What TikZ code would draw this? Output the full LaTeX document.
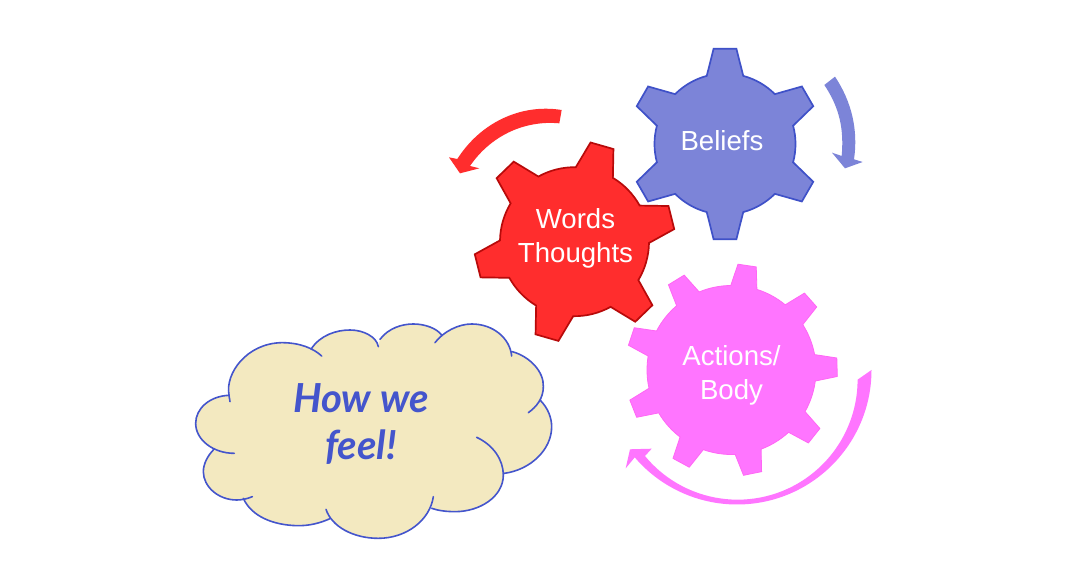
\documentclass[tikz,border=0pt]{standalone}
\usepackage{fontspec}
\setmainfont{Liberation Sans}
\newfontfamily\handfont{Lato}
\definecolor{beliefsfill}{HTML}{7C84D8}
\definecolor{beliefsline}{HTML}{3F51C8}
\definecolor{wordsfill}{HTML}{FF2D2D}
\definecolor{wordsline}{HTML}{B80A0A}
\definecolor{actionsfill}{HTML}{FF75FF}
\definecolor{actionsline}{HTML}{FF66F5}
\definecolor{cloudfill}{HTML}{F3E9C0}
\definecolor{cloudline}{HTML}{4455CC}
% Gear outline: centre x, centre y, first tooth angle, tooth count,
% root radius, tip radius, root half-angle, tip half-angle, path options
\newcommand{\cog}[9]{%
  \begin{scope}[shift={(#1,#2)}]
    \pgfmathsetmacro{\cogstep}{360/#4}
    \pgfmathtruncatemacro{\coglast}{#4-1}
    \path[#9] (#3-#7:#5pt)
      \foreach \k [evaluate=\k as \a using #3+\k*\cogstep] in {0,...,\coglast} {
        -- (\a-#8:#6pt) -- (\a+#8:#6pt) -- (\a+#7:#5pt)
        arc[start angle=\a+#7, end angle=\a+\cogstep-#7, radius=#5pt]
      } -- cycle;
  \end{scope}}
% Cloud lobes; the argument joins one lobe to the next
\newcommand{\cloudlobes}[1]{
  (147,255) .. controls (135,190) and (200,100) .. (305,98) .. controls (360,98) and (400,115) .. (425,138) #1
  (393,118) .. controls (420,75) and (470,60) .. (510,60) .. controls (550,60) and (590,80) .. (595,110) #1
  (600,88) .. controls (625,55) and (665,42) .. (700,42) .. controls (735,42) and (770,55) .. (785,75) #1
  (765,98) .. controls (790,65) and (835,42) .. (875,42) .. controls (940,42) and (990,85) .. (995,138) #1
  (997,125) .. controls (1050,140) and (1092,185) .. (1090,230) .. controls (1090,265) and (1070,290) .. (1045,308) #1
  (1080,270) .. controls (1105,295) and (1115,325) .. (1115,350) .. controls (1115,420) and (1050,480) .. (973,490) #1
  (890,382) .. controls (940,405) and (970,450) .. (970,495) .. controls (970,560) and (900,605) .. (825,605) .. controls (800,605) and (775,602) .. (755,595) #1
  (760,560) .. controls (750,630) and (680,685) .. (595,685) .. controls (520,685) and (455,650) .. (438,598) #1
  (452,625) .. controls (420,640) and (385,648) .. (350,647) .. controls (280,645) and (215,620) .. (190,565) #1
  (217,560) .. controls (200,567) and (185,570) .. (170,570) .. controls (115,570) and (70,530) .. (70,485) .. controls (70,460) and (85,435) .. (100,420) #1
  (163,430) .. controls (100,430) and (47,390) .. (47,340) .. controls (47,295) and (90,258) .. (147,256) -- (150,275)}
\tikzset{
  gearlabel/.style={text=white,font=\fontsize{27.6}{34}\selectfont,align=center,inner sep=0pt},
  feeling/.style={text=cloudline,font=\handfont\bfseries\itshape\fontsize{40}{47}\selectfont,align=center,inner sep=0pt},
  crisp/.style={line join=miter,line width=1.7pt}
}
\begin{document}
\begin{tikzpicture}[x=1pt,y=1pt]
\useasboundingbox (0,0) rectangle (1066,586);
\fill[white] (0,0) rectangle (1066,586);
\begin{scope}[shift={(0,586)},yscale=-1]
  % cloud
  \begin{scope}[shift={(180,310)},scale=1/3]
    \fill[cloudfill] \cloudlobes{--} -- cycle;
    \draw[cloudline,line width=1.6pt,line cap=round] \cloudlobes{};
  \end{scope}
  % gears
  \cog{725}{144}{-90}{6}{70.5}{96}{15}{6.8}{fill=beliefsfill,draw=beliefsline,crisp}
  \cog{731.5}{370}{-1.5}{9}{84.5}{106}{9}{5}{fill=actionsfill,draw=actionsline,line width=0.8pt}
  \cog{574.5}{241.7}{-14}{6}{74.5}{100.5}{15}{6.8}{fill=wordsfill,draw=wordsline,crisp}
  % turning arrows
  \begin{scope}[shift={(620,30)},scale=1/3]
    \fill[beliefsfill] (613,165) -- (645,140) .. controls (695,215) and (715,300) .. (702,388)
      -- (728,396) -- (675,415) -- (636,368) -- (665,378) .. controls (672,300) and (660,235) .. (613,165) -- cycle;
  \end{scope}
  \begin{scope}[shift={(430,90)},scale=1/3]
    \fill[wordsfill] (395,60) -- (388,100) .. controls (280,90) and (180,140) .. (120,228)
      -- (148,235) -- (90,250) -- (57,202) -- (82,207) .. controls (150,100) and (270,40) .. (395,60) -- cycle;
  \end{scope}
  \fill[actionsfill] (871.5,370) arc[start angle=0, end angle=139.5, radius=134.5pt]
    -- (625.7,468.3) -- (630,449.3) -- (651.7,448.7) -- (645,456)
    arc[start angle=140.5, end angle=0, radius=120pt] -- cycle;
  % labels
  \node[gearlabel] (beliefs) at (722,141) {Beliefs};
  \node[gearlabel] (words) at (575.5,238) {Words\\Thoughts};
  \node[gearlabel] (actions) at (731.5,375) {Actions/\\Body};
  \node[feeling] (feel) at (361,424) {How we\\feel!};
\end{scope}
\end{tikzpicture}
\end{document}
